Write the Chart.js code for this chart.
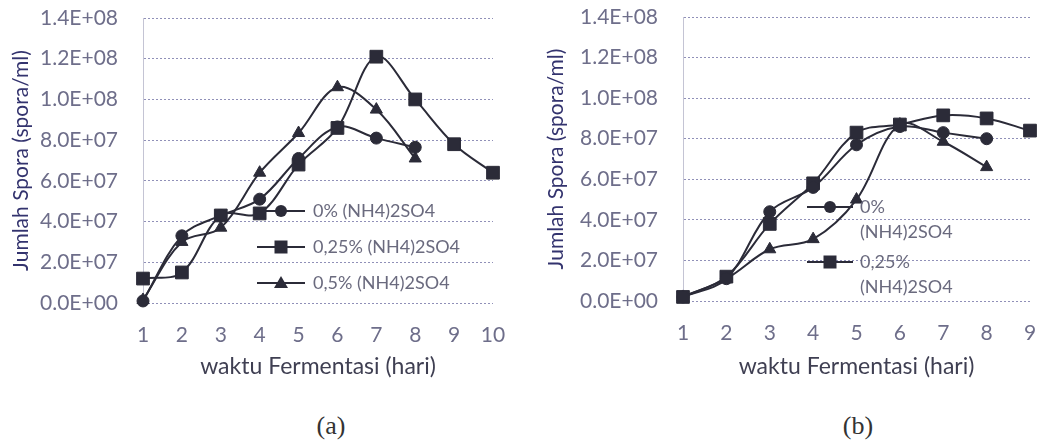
<!DOCTYPE html>
<html>
<head>
<meta charset="utf-8">
<script src="https://cdn.jsdelivr.net/npm/chart.js@4.4.1/dist/chart.umd.min.js"></script>
<style>
  html, body { margin:0; padding:0; background:#ffffff; }
  #wrap { position:relative; width:1040px; height:443px; overflow:hidden; background:#fff; }
  canvas { position:absolute; top:0; }
  #ca { left:0; }
  #cb { left:520px; }
  .cap { position:absolute; top:411px; font-family:"Liberation Serif","DejaVu Serif",serif; font-size:26px; color:#333; transform:translateX(-50%); }
</style>
</head>
<body>
<div id="wrap">
  <canvas id="ca" width="520" height="390"></canvas>
  <canvas id="cb" width="520" height="390"></canvas>
  <div class="cap" style="left:331px">(a)</div>
  <div class="cap" style="left:858px">(b)</div>
</div>
<script>
// ---- data ----
const daysA = ['1','2','3','4','5','6','7','8','9','10'];
const daysB = ['1','2','3','4','5','6','7','8','9'];
const seriesNames = ['0% (NH4)2SO4', '0,25% (NH4)2SO4', '0,5% (NH4)2SO4'];

const a_0   = [1.0e6, 3.3e7, 4.3e7, 5.1e7, 7.1e7, 8.65e7, 8.1e7, 7.65e7];
const a_025 = [1.2e7, 1.5e7, 4.3e7, 4.4e7, 6.8e7, 8.6e7, 1.21e8, 1.0e8, 7.8e7, 6.4e7];
const a_05  = [1.5e6, 3.0e7, 3.7e7, 6.4e7, 8.35e7, 1.06e8, 9.5e7, 7.1e7];

const b_0   = [2.0e6, 1.1e7, 4.4e7, 5.6e7, 7.7e7, 8.6e7, 8.3e7, 8.0e7];
const b_025 = [2.0e6, 1.2e7, 3.8e7, 5.8e7, 8.3e7, 8.7e7, 9.15e7, 9.0e7, 8.4e7];
const b_05  = [2.0e6, 1.1e7, 2.55e7, 3.05e7, 5.0e7, 8.7e7, 7.85e7, 6.6e7];

const yTicksMax = 1.4e8;
const yTickStep = 2e7;

// ---- styles ----
const LINE = '#2b2b38';
const FONT = 'Lato, "Open Sans", sans-serif';
const TICKC = '#6e6e8a';

function sci(v) {
  if (v === 0) return '0.0E+00';
  let e = Math.floor(Math.log10(v) + 1e-9);
  const m = v / Math.pow(10, e);
  return m.toFixed(1) + 'E+' + String(e).padStart(2, '0');
}

function ds(label, data, style, r) {
  return {
    label, data,
    borderColor: LINE, backgroundColor: LINE,
    borderWidth: 2, tension: 0.35,
    pointStyle: style, pointRadius: r, pointHoverRadius: r,
    pointBackgroundColor: LINE, pointBorderColor: LINE, pointBorderWidth: 1,
    clip: false
  };
}

function drawMarker(ctx, style, x, y) {
  ctx.fillStyle = LINE;
  ctx.beginPath();
  if (style === 'circle') { ctx.arc(x, y, 6, 0, Math.PI * 2); }
  else if (style === 'rect') { ctx.rect(x - 6.5, y - 6.5, 13, 13); }
  else { ctx.moveTo(x, y - 7); ctx.lineTo(x + 7, y + 5); ctx.lineTo(x - 7, y + 5); ctx.closePath(); }
  ctx.fill();
}

function legendPlugin(entries) {
  return {
    id: 'inlegend',
    afterDatasetsDraw(chart) {
      const ctx = chart.ctx;
      ctx.save();
      ctx.setLineDash([]);
      entries.forEach(e => {
        ctx.strokeStyle = LINE; ctx.lineWidth = 2;
        ctx.beginPath(); ctx.moveTo(e.x0, e.y); ctx.lineTo(e.x1, e.y); ctx.stroke();
        drawMarker(ctx, e.style, (e.x0 + e.x1) / 2, e.y);
        ctx.fillStyle = '#6a6a7e';
        ctx.font = '18px ' + FONT;
        ctx.textBaseline = 'middle';
        ctx.textAlign = 'left';
        e.lines.forEach((t, i) => ctx.fillText(t, e.tx, e.y + i * 25));
      });
      ctx.restore();
    }
  };
}

function makeChart(id, labels, sets, yW, xH, pad, titlePadLeft, legendEntries) {
  return new Chart(document.getElementById(id), {
    type: 'line',
    data: { labels, datasets: sets },
    options: {
      responsive: false, animation: false,
      layout: { padding: pad },
      plugins: { legend: { display: false }, tooltip: { enabled: false } },
      scales: {
        x: {
          offset: false,
          grid: { display: false, drawTicks: false },
          border: { display: false },
          ticks: { color: TICKC, font: { family: FONT, size: 21 }, padding: 20, maxRotation: 0 },
          title: { display: true, text: 'waktu Fermentasi (hari)', color: '#3f3f52',
                   font: { family: FONT, size: 23 }, padding: { top: 0, bottom: 10 } },
          afterFit: s => { s.height = xH; s.paddingLeft = 0; s.paddingRight = 0; }
        },
        y: {
          min: 0, max: yTicksMax,
          grid: { color: '#9090b8', lineWidth: 1, drawTicks: false },
          border: { display: true, color: '#c4c4d4', dash: [2, 2] },
          ticks: { stepSize: yTickStep, color: TICKC, font: { family: FONT, size: 21 }, padding: 25,
                   callback: v => sci(v) },
          title: { display: true, text: 'Jumlah Spora (spora/ml)', color: '#33336e',
                   font: { family: FONT, size: 21 }, padding: { top: titlePadLeft, bottom: 0 } },
          afterFit: s => { s.width = yW; s.paddingTop = 0; s.paddingBottom = 0; }
        }
      }
    },
    plugins: [ legendPlugin(legendEntries) ]
  });
}

const chartA = makeChart('ca', daysA, [
  ds(seriesNames[0], a_0, 'circle', 6),
  ds(seriesNames[1], a_025, 'rect', 9),
  ds(seriesNames[2], a_05, 'triangle', 7)
], 143, 87, { top: 18, right: 27, left: 0, bottom: 0 }, 9, [
  { style: 'circle', x0: 257, x1: 305, y: 211, tx: 313, lines: ['0% (NH4)2SO4'] },
  { style: 'rect', x0: 257, x1: 305, y: 247, tx: 313, lines: ['0,25% (NH4)2SO4'] },
  { style: 'triangle', x0: 257, x1: 305, y: 283, tx: 313, lines: ['0,5% (NH4)2SO4'] }
]);

const chartB = makeChart('cb', daysB, [
  ds(seriesNames[0], b_0, 'circle', 6),
  ds(seriesNames[1], b_025, 'rect', 9),
  ds(seriesNames[2], b_05, 'triangle', 7)
], 163, 89, { top: 17, right: 10, left: 0, bottom: 0 }, 24, [
  { style: 'circle', x0: 287, x1: 333, y: 207, tx: 340, lines: ['0%', '(NH4)2SO4'] },
  { style: 'rect', x0: 287, x1: 333, y: 262, tx: 340, lines: ['0,25%', '(NH4)2SO4'] }
]);
</script>
</body>
</html>
